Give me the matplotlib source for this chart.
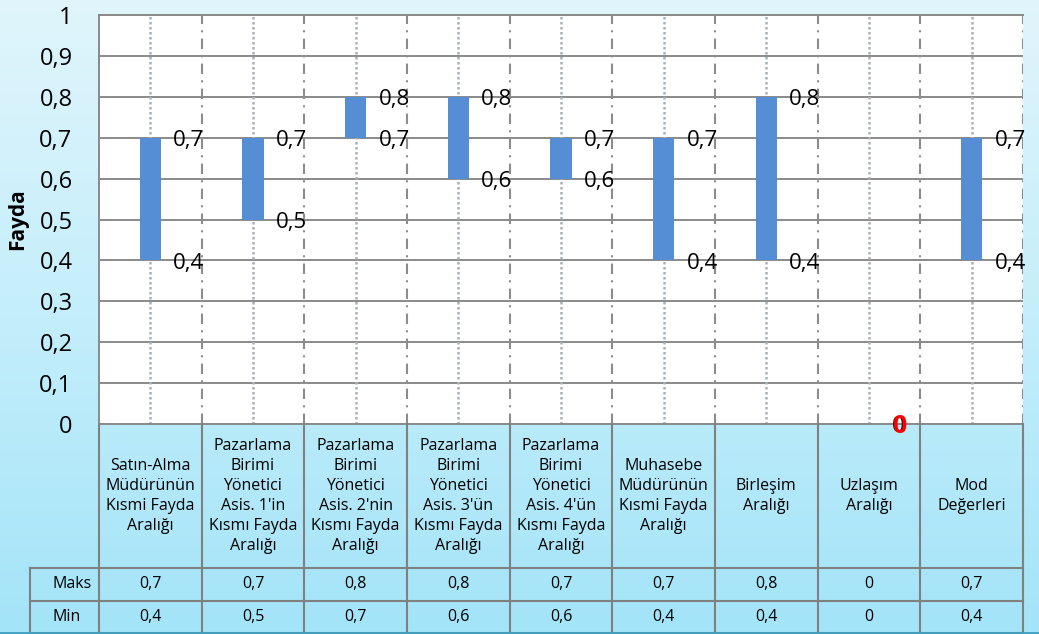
import matplotlib.pyplot as plt
import matplotlib.colors as mcolors
import numpy as np
from matplotlib.ticker import FuncFormatter

plt.rcParams['font.family'] = ['Open Sans', 'DejaVu Sans']

categories = [
    "Satın-Alma\nMüdürünün\nKısmi Fayda\nAralığı",
    "Pazarlama\nBirimi\nYönetici\nAsis. 1'in\nKısmı Fayda\nAralığı",
    "Pazarlama\nBirimi\nYönetici\nAsis. 2'nin\nKısmı Fayda\nAralığı",
    "Pazarlama\nBirimi\nYönetici\nAsis. 3'ün\nKısmı Fayda\nAralığı",
    "Pazarlama\nBirimi\nYönetici\nAsis. 4'ün\nKısmı Fayda\nAralığı",
    "Muhasebe\nMüdürünün\nKısmi Fayda\nAralığı",
    "Birleşim\nAralığı",
    "Uzlaşım\nAralığı",
    "Mod\nDeğerleri",
]
maks = [0.7, 0.7, 0.8, 0.8, 0.7, 0.7, 0.8, 0.0, 0.7]
min_ = [0.4, 0.5, 0.7, 0.6, 0.6, 0.4, 0.4, 0.0, 0.4]
row_labels = ["Maks", "Min"]


def tr(v):
    # Turkish decimal comma, whole numbers without decimals
    if abs(v - round(v)) < 1e-9:
        return f"{int(round(v))}"
    return f"{v:.1f}".replace(".", ",")


W, H = 1039, 634
fig = plt.figure(figsize=(W / 100, H / 100), dpi=100)

# background gradient
bg = fig.add_axes([0, 0, 1, 1], zorder=-5)
cmap = mcolors.LinearSegmentedColormap.from_list("bg", ["#e0f5fc", "#c4eefb", "#a3e4f8"])
grad = np.linspace(0, 1, 256).reshape(-1, 1)
bg.imshow(grad, aspect="auto", cmap=cmap, extent=[0, 1, 0, 1], origin="upper")
bg.axis("off")

n = len(categories)
x = np.arange(n)
left, right, top, base = 99, 1023, 15, 424

ax = fig.add_axes([left / W, (H - base) / H, (right - left) / W, (base - top) / H])
ax.set_facecolor("white")
ax.set_xlim(-0.5, n - 0.5)
ax.set_ylim(0, 1)
ax.set_yticks(np.arange(0, 1.01, 0.1))
ax.yaxis.set_major_formatter(FuncFormatter(lambda v, p: tr(v)))
ax.tick_params(axis="y", length=0, pad=19, labelsize=17)
ax.set_xticks([])
ax.yaxis.grid(True, color="#8a8a8a", lw=1.4)
ax.set_axisbelow(True)
for s in ["left", "top", "bottom"]:
    ax.spines[s].set_color("#8a8a8a")
    ax.spines[s].set_linewidth(1.4)
ax.spines["right"].set_visible(False)

# vertical guides: dotted at centres, dash-dot at column edges
for i in x:
    ax.axvline(i, color="#a9b1bb", lw=1.8, ls=(0, (1, 1)), zorder=1)
    ax.axvline(i + 0.5, color="#8c8c8c", lw=1.5, ls=(0, (5, 3, 1, 3)), zorder=1)

lo = np.array(min_)
hi = np.array(maks)
ax.bar(x, hi - lo, bottom=lo, width=0.21, color="#558ed5", zorder=3)

for i in x:
    ax.annotate(tr(lo[i]), (i, lo[i]), xytext=(16.5, -2), textcoords="offset points",
                ha="left", va="center", fontsize=16, zorder=4, annotation_clip=False)
    same = hi[i] == lo[i]
    ax.annotate(tr(hi[i]), (i, hi[i]), xytext=(16.5, -2), textcoords="offset points",
                ha="left", va="center", fontsize=18 if same else 16, zorder=5,
                annotation_clip=False, color="red" if same else "black",
                fontweight="bold" if same else "normal")

fig.text(18 / W, 1 - 219 / H, "Fayda", rotation=90, ha="center", va="center",
         fontsize=15, fontweight="bold")

# data table under the plot
tbot = 633
tax = fig.add_axes([left / W, (H - tbot) / H, (right - left) / W, (tbot - base) / H])
tax.set_xlim(-0.5, n - 0.5)
tax.set_ylim(tbot, base)
tax.axis("off")
unit = (right - left) / n
lab_x0 = -0.5 - (left - 30) / unit
row_y = [568, 601, 633]
gc = "#808080"
for k in range(n + 1):
    tax.plot([k - 0.5, k - 0.5], [base, tbot], color=gc, lw=1.5, clip_on=False)
tax.plot([lab_x0, lab_x0], [row_y[0], tbot], color=gc, lw=1.5, clip_on=False)
for y in row_y:
    tax.plot([lab_x0, n - 0.5], [y, y], color=gc, lw=1.5, clip_on=False)

for i, c in enumerate(categories):
    tax.text(i, 496, c, ha="center", va="center", fontsize=11.5, linespacing=1.35)
for r, (name, vals) in enumerate(zip(row_labels, [maks, min_])):
    yc = (row_y[r] + row_y[r + 1]) / 2
    tax.text(-0.5 - (left - 52) / unit, yc, name, ha="left", va="center", fontsize=11.5,
             clip_on=False)
    for i, v in enumerate(vals):
        tax.text(i, yc, tr(v), ha="center", va="center", fontsize=11.5)

fig.add_artist(plt.Line2D([0, 1], [1 / H, 1 / H], color="#3e9fbf", lw=2))

fig.savefig("out.png", dpi=100)
